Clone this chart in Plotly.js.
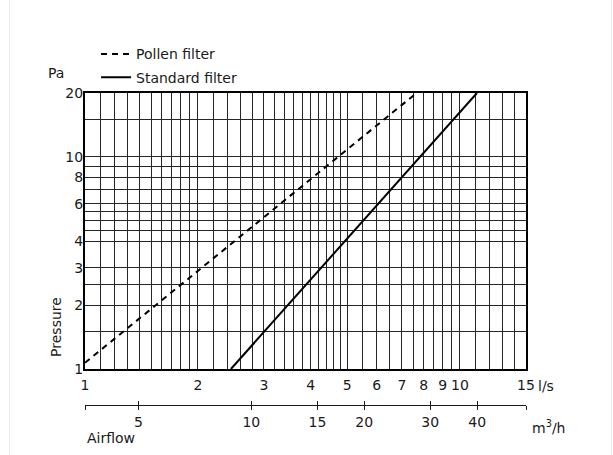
<!DOCTYPE html>
<html>
<head>
<meta charset="utf-8">
<script src="https://cdn.plot.ly/plotly-3.0.1.min.js"></script>
<style>
  html, body { margin: 0; padding: 0; background: #fff; }
  #wrap { position: relative; width: 613px; height: 455px; }
  #chart { width: 613px; height: 455px; }
  .edge { position: absolute; top: 0; width: 1px; height: 455px; background: #ececec; }
</style>
</head>
<body>
<div id="wrap">
  <div class="edge" style="left:9px"></div>
  <div class="edge" style="left:611px"></div>
  <div id="chart"></div>
</div>
<script>
// ---- data ----
const seriesNames = ['Pollen filter', 'Standard filter'];
const pollenFlow = [1.0, 7.66];        // l/s
const pollenPressure = [1.07, 20];     // Pa
const standardFlow = [2.45, 11.1];     // l/s
const standardPressure = [1, 20];      // Pa

const flowRangeLs = [1, 15];
const pressureRange = [1, 20];

const xLabelVals = [1, 2, 3, 4, 5, 6, 7, 8, 9, 10, 15];
const xMinorGridVals = [1.1, 1.2, 1.3, 1.4, 1.5, 1.6, 1.7, 1.8, 1.9,
  2.2, 2.4, 2.6, 2.8, 3.2, 3.4, 3.6, 3.8, 4.2, 4.4, 4.6, 4.8,
  5.5, 6.5, 7.5, 8.5, 9.5, 11, 12, 13, 14];

const yLabelVals = [1, 2, 3, 4, 6, 8, 10, 20];
const yMinorGridVals = [1.5, 2.5, 4.5, 5, 5.5, 7, 9, 15];

const m3hPerLs = 3.6;
const m3hLabelVals = [5, 10, 15, 20, 30, 40];

// ---- build ----
const FONT = 'DejaVu Sans';
const TXT = '#1a1a1a';
const GRID = '#262626';

const m3hRange = flowRangeLs.map(v => v * m3hPerLs);
const lg = v => Math.log10(v);

const traces = [
  { x: pollenFlow, y: pollenPressure, name: seriesNames[0], mode: 'lines',
    legendgroup: 'a',
    line: { color: '#000', width: 2, dash: '6px,5px' } },
  { x: standardFlow, y: standardPressure, name: seriesNames[1], mode: 'lines',
    legendgroup: 'b',
    line: { color: '#000', width: 2 } },
  { x: [], y: [], xaxis: 'x2', showlegend: false, hoverinfo: 'skip' },
  { x: [], y: [], xaxis: 'x3', showlegend: false, hoverinfo: 'skip' }
];

const gridMinor = vals => ({
  tickmode: 'array', tickvals: vals, ticks: '',
  showgrid: true, gridcolor: GRID, gridwidth: 1
});

const layout = {
  width: 613, height: 455,
  margin: { l: 85, r: 87, t: 93, b: 50 },
  paper_bgcolor: 'rgba(0,0,0,0)',
  plot_bgcolor: '#fff',
  font: { family: FONT, size: 14, color: TXT },
  showlegend: true,
  legend: {
    x: 0.025, y: 1.175, xanchor: 'left', yanchor: 'top',
    bgcolor: 'rgba(0,0,0,0)', borderwidth: 0,
    traceorder: 'grouped', tracegroupgap: 2,
    font: { family: FONT, size: 14, color: TXT }
  },
  xaxis: {
    type: 'log', range: flowRangeLs.map(lg), autorange: false,
    tickmode: 'array', tickvals: xLabelVals, ticktext: xLabelVals.map(String),
    ticks: '', ticklabelstandoff: 2,
    showgrid: true, gridcolor: GRID, gridwidth: 1,
    minor: gridMinor(xMinorGridVals),
    showline: true, mirror: true, linecolor: '#000', linewidth: 2,
    zeroline: false, tickfont: { family: FONT, size: 14, color: TXT },
    anchor: 'y'
  },
  yaxis: {
    type: 'log', range: pressureRange.map(lg), autorange: false,
    domain: [0.1154, 1],
    tickmode: 'array', tickvals: yLabelVals, ticktext: yLabelVals.map(String),
    ticks: '', ticklabelstandoff: -3,
    showgrid: true, gridcolor: GRID, gridwidth: 1,
    minor: gridMinor(yMinorGridVals),
    showline: true, mirror: true, linecolor: '#000', linewidth: 2,
    zeroline: false, tickfont: { family: FONT, size: 14, color: TXT }
  },
  xaxis2: {
    type: 'log', range: m3hRange.map(lg), autorange: false,
    overlaying: 'x', anchor: 'free', position: 0, side: 'bottom',
    tickmode: 'array', tickvals: m3hLabelVals, ticktext: m3hLabelVals.map(String),
    ticks: 'outside', ticklen: 4, tickwidth: 1, tickcolor: TXT,
    minor: { tickmode: 'array', tickvals: m3hRange, ticks: 'outside', ticklen: 4,
             tickwidth: 1, tickcolor: TXT, showgrid: false },
    showgrid: false, zeroline: false,
    showline: true, linecolor: TXT, linewidth: 1,
    tickfont: { family: FONT, size: 14, color: TXT }
  },
  xaxis3: {
    type: 'log', range: m3hRange.map(lg), autorange: false,
    overlaying: 'x', anchor: 'free', position: 0, side: 'bottom',
    tickmode: 'array', tickvals: m3hLabelVals,
    ticks: 'inside', ticklen: 4, tickwidth: 1, tickcolor: TXT,
    minor: { tickmode: 'array', tickvals: m3hRange, ticks: 'inside', ticklen: 4,
             tickwidth: 1, tickcolor: TXT, showgrid: false },
    showticklabels: false, showgrid: false, zeroline: false, showline: false
  },
  annotations: [
    { text: 'Pa', xref: 'paper', yref: 'paper', x: -0.066, y: 1.064,
      xanchor: 'center', yanchor: 'middle', showarrow: false },
    { text: 'Pressure', xref: 'paper', yref: 'paper', x: -0.066, y: 0.25,
      textangle: -90, xanchor: 'center', yanchor: 'middle', showarrow: false },
    { text: 'Airflow', xref: 'paper', yref: 'paper', x: 0, y: -0.106,
      xanchor: 'left', yanchor: 'middle', showarrow: false },
    { text: 'l/s', xref: 'paper', yref: 'paper', x: 1.022, y: 0.062,
      xanchor: 'left', yanchor: 'middle', showarrow: false },
    { text: 'm<sup>3</sup>/h', xref: 'paper', yref: 'paper', x: 1.008, y: -0.07,
      xanchor: 'left', yanchor: 'middle', showarrow: false }
  ]
};

Plotly.newPlot('chart', traces, layout, { staticPlot: true, displayModeBar: false });
</script>
</body>
</html>
